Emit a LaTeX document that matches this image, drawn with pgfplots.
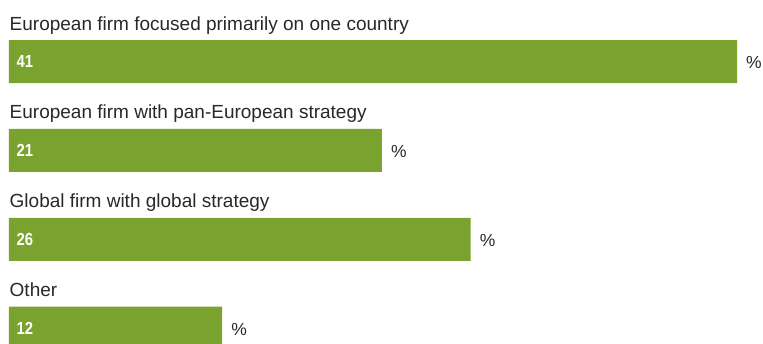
\documentclass[border=0pt]{standalone}
\usepackage{pgfplots}
\pgfplotsset{compat=1.18}
\usepackage{fontspec}
\setmainfont{Liberation Sans}
\definecolor{barg}{RGB}{122,162,47}
\definecolor{txt}{RGB}{40,40,40}
\begin{document}
\begin{tikzpicture}
\begin{axis}[name=ax, hide axis, scale only axis,
  width=728pt, height=343pt,
  xmin=0, xmax=41, ymin=-0.6918, ymax=3.1665, y dir=reverse,
  bar width=43pt]
\addplot[xbar, bar shift=0pt, fill=barg, draw=none] coordinates {(41,0) (21,1) (26,2) (12,3)};
\addplot[draw=none, mark=none, nodes near coords={\scalebox{0.85}[1]{\pgfplotspointmeta}},
  point meta=explicit symbolic,
  nodes near coords style={anchor=west, inner sep=0pt, xshift=7.5pt, text=white,
  font=\fontsize{17.5}{20}\selectfont\bfseries}]
  coordinates {(0,0) [41] (0,1) [21] (0,2) [26] (0,3) [12]};
\addplot[draw=none, mark=none, nodes near coords={\%},
  nodes near coords style={anchor=west, inner sep=0pt, xshift=9pt, yshift=-1pt, text=txt,
  font=\fontsize{17.5}{20}\selectfont}]
  coordinates {(41,0) (21,1) (26,2) (12,3)};
\addplot[draw=none, mark=none, nodes near coords, point meta=explicit symbolic,
  nodes near coords style={anchor=base west, inner sep=0pt, xshift=0.5pt, text=txt,
  font=\fontsize{19}{22}\selectfont}]
  coordinates {(0,-0.3543) [European firm focused primarily on one country]
               (0,0.6457) [European firm with pan-European strategy]
               (0,1.6457) [Global firm with global strategy]
               (0,2.6457) [Other]};
\end{axis}
\pgfresetboundingbox
\path (ax.south west) ++(-9pt,0) rectangle ++(763pt,343pt);
\end{tikzpicture}
\end{document}
